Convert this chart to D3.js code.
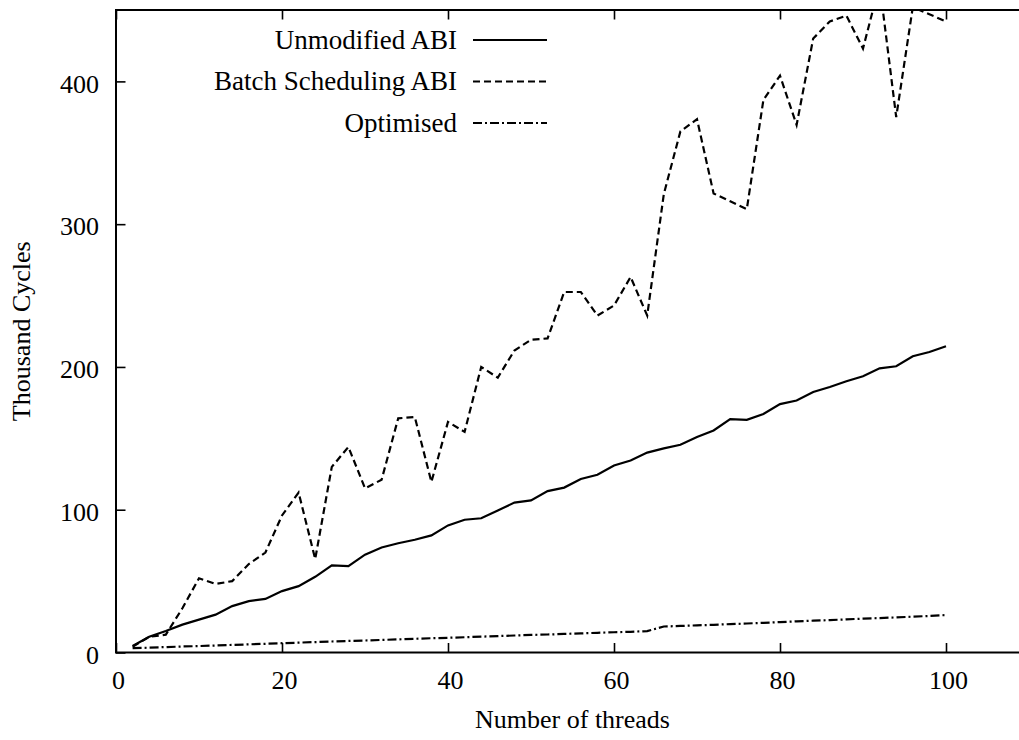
<!DOCTYPE html>
<html>
<head>
<meta charset="utf-8">
<script src="https://cdn.jsdelivr.net/npm/d3@7/dist/d3.min.js"></script>
<style>
  body { margin: 0; background: #fff; }
  svg { display: block; font-family: "Liberation Serif", "Times New Roman", serif; }
  .axis path { display: none; }
  .axis line { stroke: #000; stroke-width: 1.6; }
  .axis text { font-size: 26px; fill: #000; font-family: "Liberation Serif", serif; }
</style>
</head>
<body>
<script>
// datos
var threads = [2, 4, 6, 8, 10, 12, 14, 16, 18, 20, 22, 24, 26, 28, 30, 32, 34, 36, 38, 40,
               42, 44, 46, 48, 50, 52, 54, 56, 58, 60, 62, 64, 66, 68, 70, 72, 74, 76, 78, 80,
               82, 84, 86, 88, 90, 92, 94, 96, 98, 100];

var unmodified = [4.5, 11, 15, 19.5, 23, 26.5, 32.5, 36, 37.5, 43, 46.5, 53, 61, 60.5, 68.5, 73.5, 76.5, 79, 82, 89,
                  93, 94, 99.5, 105, 106.5, 113, 115.5, 121.5, 124.5, 131, 134.5, 140, 143, 145.5, 151, 155.5, 163.5, 163, 167, 174,
                  176.5, 182.5, 186, 190, 193.5, 199, 200.5, 207.5, 210.5, 214.5];

var batch = [4, 11, 12.5, 31, 52, 48, 50, 62, 70, 96, 112, 65.5, 130, 144, 115, 121, 164, 165, 119.5, 161.5,
             154.5, 200, 192.5, 211.5, 219, 220, 252.5, 252.5, 236, 243, 263, 236, 321, 365, 373.5, 321.5, 316, 310.5, 387, 404,
             369.5, 430, 442, 446, 423, 468, 375, 452, 447, 442];

var optimised = [3, 3.4, 3.8, 4.2, 4.5, 4.9, 5.3, 5.7, 6.1, 6.5, 6.9, 7.3, 7.7, 8.1, 8.4, 8.8, 9.2, 9.6, 10, 10.3,
                 10.7, 11.1, 11.5, 11.9, 12.3, 12.6, 13, 13.4, 13.8, 14.2, 14.5, 15, 18.2, 18.6, 19, 19.4, 19.9, 20.3, 20.8, 21.3,
                 21.8, 22.3, 22.7, 23.2, 23.7, 24.1, 24.6, 25.1, 25.6, 26.2];

var xTicks = [0, 20, 40, 60, 80, 100];
var yTicks = [0, 100, 200, 300, 400];

var seriesNames = ["Unmodified ABI", "Batch Scheduling ABI", "Optimised"];
var seriesValues = [unmodified, batch, optimised];
var seriesDash = [null, "7,4", "9,3,2,3"];

// tamaños y margenes
var W = 1019, H = 740,
    plot = { left: 116, top: 10, bottom: 652.5, right: 1029 };

var svg = d3.select("body").append("svg")
    .attr("width", W)
    .attr("height", H);

var xScale = d3.scaleLinear().domain([0, 110]).range([plot.left, plot.right]);
var yScale = d3.scaleLinear().domain([0, 450]).range([plot.bottom, plot.top]);

// recorte del area del grafico
svg.append("clipPath").attr("id", "clip")
  .append("rect")
    .attr("x", plot.left).attr("y", plot.top)
    .attr("width", plot.right - plot.left).attr("height", plot.bottom - plot.top);

// ejes
var gx = svg.append("g")
    .attr("class", "axis")
    .attr("transform", "translate(0," + plot.bottom + ")")
    .call(d3.axisBottom(xScale).tickValues(xTicks).tickSize(-9.5).tickSizeOuter(0).tickPadding(18));
gx.selectAll("text").attr("dx", 2);

svg.append("g")
    .attr("class", "axis")
    .attr("transform", "translate(0," + plot.top + ")")
    .call(d3.axisTop(xScale).tickValues(xTicks).tickSize(-9.5).tickSizeOuter(0).tickFormat(""));

var gy = svg.append("g")
    .attr("class", "axis")
    .attr("transform", "translate(" + plot.left + ",0)")
    .call(d3.axisLeft(yScale).tickValues(yTicks).tickSize(-9.5).tickSizeOuter(0).tickPadding(17));
gy.selectAll("text").attr("dy", "0.41em");

svg.append("g")
    .attr("class", "axis")
    .attr("transform", "translate(" + plot.right + ",0)")
    .call(d3.axisRight(yScale).tickValues(yTicks).tickSize(-9.5).tickSizeOuter(0).tickFormat(""));

// borde
svg.append("rect")
    .attr("x", plot.left).attr("y", plot.top)
    .attr("width", plot.right - plot.left).attr("height", plot.bottom - plot.top)
    .attr("fill", "none")
    .attr("stroke", "#000")
    .attr("stroke-width", 2);

// lineas de datos
var line = d3.line()
    .x(function(d, i) { return xScale(threads[i]); })
    .y(function(d) { return yScale(d); });

svg.append("g").attr("clip-path", "url(#clip)")
  .selectAll("path")
    .data(seriesValues)
    .enter()
    .append("path")
    .attr("d", line)
    .attr("fill", "none")
    .attr("stroke", "#000")
    .attr("stroke-width", 2.2)
    .attr("stroke-linejoin", "miter")
    .attr("stroke-dasharray", function(d, i) { return seriesDash[i]; });

// leyenda
var legend = svg.append("g");
seriesNames.forEach(function(name, i) {
  var ly = 40 + i * 41.5;
  legend.append("text")
      .attr("x", 457)
      .attr("y", ly + 8.5)
      .attr("text-anchor", "end")
      .attr("font-size", "27px")
      .text(name);
  legend.append("line")
      .attr("x1", 473).attr("x2", 547)
      .attr("y1", ly).attr("y2", ly)
      .attr("stroke", "#000")
      .attr("stroke-width", 2.2)
      .attr("stroke-dasharray", seriesDash[i]);
});

// titulos de los ejes
svg.append("text")
    .attr("x", (plot.left + plot.right) / 2)
    .attr("y", 728)
    .attr("text-anchor", "middle")
    .attr("font-size", "26px")
    .text("Number of threads");

svg.append("text")
    .attr("transform", "translate(30," + (plot.top + plot.bottom) / 2 + ") rotate(-90)")
    .attr("text-anchor", "middle")
    .attr("font-size", "26px")
    .text("Thousand Cycles");
</script>
</body>
</html>
